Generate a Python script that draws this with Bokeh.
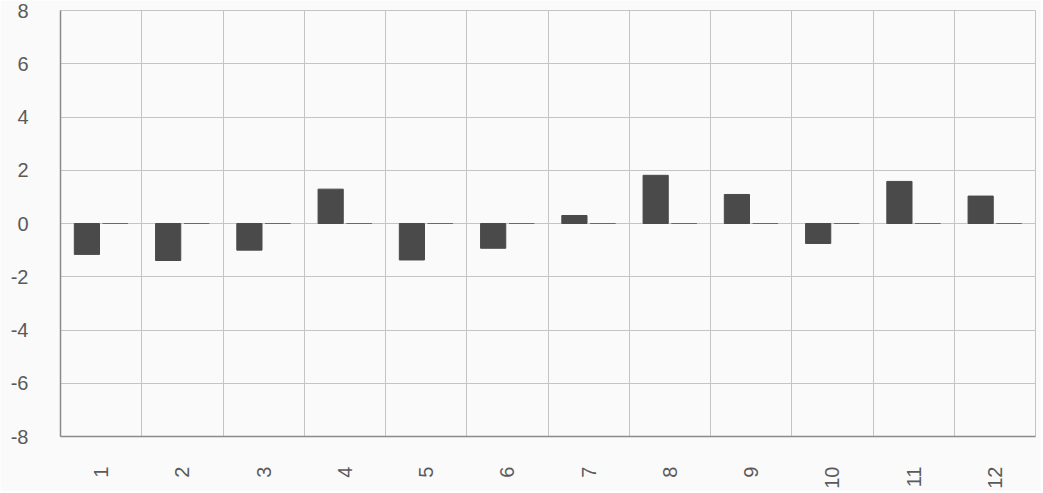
import math
from bokeh.plotting import figure
from bokeh.models import ColumnDataSource, Range1d, FixedTicker
from bokeh.transform import dodge
from bokeh.embed import file_html
from bokeh.resources import INLINE

# ---- data ----
months = [1, 2, 3, 4, 5, 6, 7, 8, 9, 10, 11, 12]
month_labels = ["1", "2", "3", "4", "5", "6", "7", "8", "9", "10", "11", "12"]
series_a = [-1.16, -1.39, -1.0, 1.29, -1.37, -0.93, 0.30, 1.81, 1.09, -0.75, 1.58, 1.03]
series_b = [0, 0, 0, 0, 0, 0, 0, 0, 0, 0, 0, 0]
y_ticks = [-8, -6, -4, -2, 0, 2, 4, 6, 8]
y_tick_labels = ["-8", "-6", "-4", "-2", "0", "2", "4", "6", "8"]

BG = "#fafafa"
GRID = "#c4c4c4"
AXIS = "#8a8a8a"
BAR = "#4a4a4a"
TXT = "#5a5a5a"
FONT = "Liberation Sans"

src = ColumnDataSource(dict(x=months, a=series_a, b=series_b))

p = figure(width=1041, height=491, output_backend="svg", toolbar_location=None,
           x_range=Range1d(0.5, 12.5), y_range=Range1d(-8, 8),
           min_border_left=60, min_border_right=6, min_border_top=10, min_border_bottom=55)
p.background_fill_color = BG
p.border_fill_color = BG
p.outline_line_color = GRID

p.vbar(x=dodge("x", -0.175), top="a", bottom=0, width=0.31, source=src,
       fill_color=BAR, line_color=BAR)
p.vbar(x=dodge("x", 0.175), top="b", bottom=0, width=0.31, source=src,
       fill_color=BAR, line_color="#6a6a6a", line_width=1)

for ax in (p.xaxis[0], p.yaxis[0]):
    ax.major_tick_line_color = None
    ax.minor_tick_line_color = None
    ax.axis_line_color = AXIS
    ax.axis_line_width = 1.5
    ax.major_label_text_font = FONT
    ax.major_label_text_font_size = "20px"
    ax.major_label_text_color = TXT

p.yaxis.ticker = FixedTicker(ticks=y_ticks)
p.yaxis.major_label_overrides = dict(zip(y_ticks, y_tick_labels))
p.yaxis.major_label_standoff = 26

p.xaxis.ticker = FixedTicker(ticks=months)
p.xaxis.major_label_overrides = dict(zip(months, month_labels))
p.xaxis.major_label_orientation = math.pi / 2
p.xaxis.major_label_standoff = 24

p.ygrid.ticker = FixedTicker(ticks=y_ticks)
p.ygrid.grid_line_color = GRID
p.xgrid.ticker = FixedTicker(ticks=[m - 0.5 for m in months] + [months[-1] + 0.5])
p.xgrid.grid_line_color = GRID

open("out.html", "w").write(file_html(p, INLINE))
